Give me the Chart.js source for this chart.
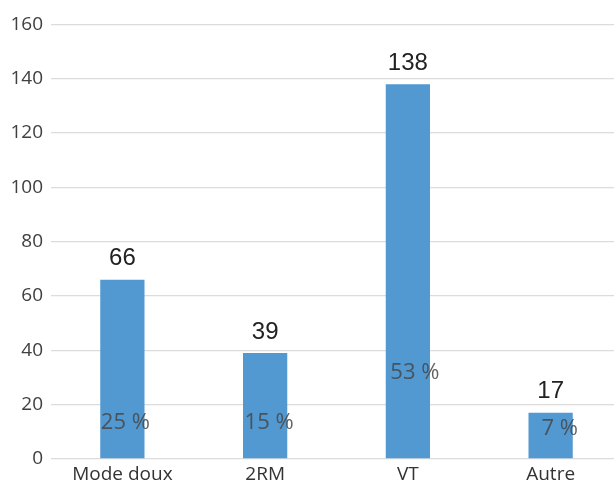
<!DOCTYPE html>
<html>
<head>
<meta charset="utf-8">
<script src="https://cdn.jsdelivr.net/npm/chart.js@4/dist/chart.umd.min.js"></script>
<style>
  html,body{margin:0;padding:0;background:#fff;overflow:hidden;}
  #wrap{width:622px;height:481px;margin-top:5px;position:relative;}
</style>
</head>
<body>
<div id="wrap"><canvas id="c"></canvas></div>
<script>
// data
const categories=["Mode doux","2RM","VT","Autre"];
const counts=[66,39,138,17];
const shares=["25 %","15 %","53 %","7 %"];
const yTicks=[0,20,40,60,80,100,120,140,160];

// labels: count above each bar, share inside it
const labelPlugin={
  id:"barLabels",
  afterDatasetsDraw(chart,args,opts){
    const ctx=chart.ctx;
    const meta=chart.getDatasetMeta(0);
    const y=chart.scales.y;
    ctx.save();
    ctx.textAlign="center";
    ctx.textBaseline="middle";
    meta.data.forEach((bar,i)=>{
      ctx.fillStyle="#222";
      ctx.font="24px 'Liberation Sans', Arial, sans-serif";
      ctx.fillText(String(counts[i]),bar.x,bar.y-21);
      ctx.fillStyle="rgba(70,70,70,0.85)";
      ctx.font="22px 'Open Sans', sans-serif";
      ctx.fillText(shares[i],bar.x+opts.dx[i],y.getPixelForValue(opts.at[i]));
    });
    ctx.restore();
  }
};

new Chart(document.getElementById("c").getContext("2d"),{
  type:"bar",
  data:{
    labels:categories,
    datasets:[{data:counts,backgroundColor:"#5299d2",borderWidth:0,
      barPercentage:0.31,categoryPercentage:1}]
  },
  options:{
    responsive:true,
    maintainAspectRatio:false,
    animation:false,
    layout:{padding:{top:14,right:0,left:0,bottom:0}},
    plugins:{
      legend:{display:false},
      tooltip:{enabled:false},
      barLabels:{at:[13.2,13.2,31.6,11],dx:[3,4,7,9]}
    },
    scales:{
      x:{
        grid:{display:false,drawTicks:false},
        border:{display:false},
        ticks:{color:"#333",font:{family:"'Open Sans', sans-serif",size:19},padding:4},
        afterFit(s){s.height=27;}
      },
      y:{
        min:0,max:160,
        afterBuildTicks(s){s.ticks=yTicks.map(v=>({value:v}));},
        grid:{color:"#dcdcdc",lineWidth:1.3,drawTicks:false},
        border:{display:false},
        ticks:{color:"#404040",font:{family:"'Open Sans', sans-serif",size:19},padding:8},
        afterFit(s){s.width=51;}
      }
    }
  },
  plugins:[labelPlugin]
});
</script>
</body>
</html>
